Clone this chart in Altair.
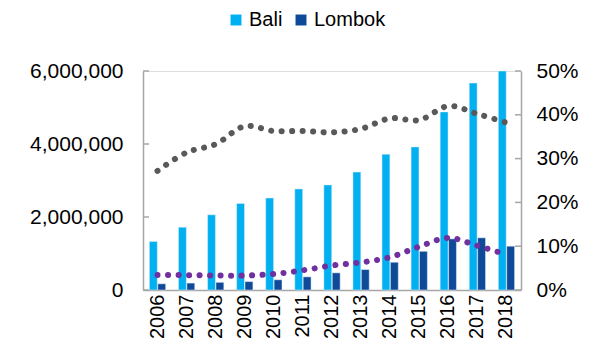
import altair as alt
import pandas as pd

years = [str(y) for y in range(2006, 2019)]
bali = [1330000, 1720000, 2060000, 2370000, 2520000, 2770000, 2880000,
        3230000, 3720000, 3920000, 4880000, 5670000, 6000000]
lombok = [170000, 190000, 210000, 230000, 280000, 360000, 470000,
          560000, 760000, 1060000, 1400000, 1430000, 1200000]
bali_share = [0.272, 0.314, 0.333, 0.374, 0.363, 0.363, 0.360,
              0.368, 0.392, 0.388, 0.420, 0.402, 0.382]
lombok_share = [0.034, 0.034, 0.033, 0.033, 0.0365, 0.045, 0.056,
                0.063, 0.075, 0.099, 0.119, 0.101, 0.081]
left_ticks = [0, 2000000, 4000000, 6000000]
right_ticks = [0, 0.1, 0.2, 0.3, 0.4, 0.5]
series = ["Bali", "Lombok"]
colors = ["#00B0F0", "#0F4A98"]

W, H = 378, 219
FONT = "Liberation Sans"
AXC = "#A6A6A6"
FS = 21

bars_df = pd.DataFrame(
    [{"year": y, "series": "Bali", "value": v} for y, v in zip(years, bali)]
    + [{"year": y, "series": "Lombok", "value": v} for y, v in zip(years, lombok)]
)
share_df = pd.DataFrame({"year": years, "bali_share": bali_share, "lombok_share": lombok_share})
lt_df = pd.DataFrame({"v": left_ticks})
rt_df = pd.DataFrame({"v": right_ticks})

xenc = alt.X("year:N", sort=years, title=None,
             scale=alt.Scale(paddingInner=0.44, paddingOuter=0.22),
             axis=alt.Axis(labelAngle=270, labelFontSize=20, labelFont=FONT,
                           labelColor="#000000", ticks=False, domainColor=AXC,
                           domainWidth=1.5, labelPadding=4))

bars = alt.Chart(bars_df).mark_bar(stroke="#E6EEF8", strokeWidth=0.5).encode(
    x=xenc,
    xOffset=alt.XOffset("series:N", sort=series, scale=alt.Scale(paddingInner=0.06)),
    y=alt.Y("value:Q", title=None,
            scale=alt.Scale(domain=[0, 6000000], nice=False, clamp=True),
            axis=alt.Axis(orient="left", values=left_ticks, format=",.0f", grid=False,
                          ticks=False, labelFontSize=FS, labelFont=FONT,
                          labelColor="#000000", domainColor=AXC, domainWidth=1.5,
                          labelPadding=20)),
    color=alt.Color("series:N", sort=series,
                    scale=alt.Scale(domain=series, range=colors),
                    legend=alt.Legend(title=None, orient="none", direction="horizontal",
                                      legendX=83, legendY=-61, symbolType="square",
                                      symbolSize=120, symbolStrokeWidth=0,
                                      labelFontSize=20, labelFont=FONT,
                                      labelColor="#000000", columnPadding=8,
                                      labelOffset=3)),
)

ltick = alt.Chart(lt_df).mark_rule(color=AXC, strokeWidth=1.5).encode(
    x=alt.value(0), x2=alt.value(6),
    y=alt.Y("v:Q", scale=alt.Scale(domain=[0, 6000000], nice=False), axis=None),
)

line_common = dict(strokeDash=[0.1, 10.4], strokeCap="round", strokeWidth=6,
                   interpolate="catmull-rom")

gray = alt.Chart(share_df).mark_line(color="#595959", **line_common).encode(
    x=alt.X("year:N", sort=years),
    y=alt.Y("bali_share:Q", title=None,
            scale=alt.Scale(domain=[0, 0.5], nice=False),
            axis=alt.Axis(orient="right", values=right_ticks, format=".0%", grid=False,
                          ticks=False, labelFontSize=FS, labelFont=FONT,
                          labelColor="#000000", domainColor=AXC, domainWidth=1.5,
                          labelPadding=15)),
)

purple = alt.Chart(share_df).mark_line(color="#7030A0", **line_common).encode(
    x=alt.X("year:N", sort=years),
    y=alt.Y("lombok_share:Q", scale=alt.Scale(domain=[0, 0.5], nice=False), axis=None),
)

rtick = alt.Chart(rt_df).mark_rule(color=AXC, strokeWidth=1.5).encode(
    x=alt.value(W - 6), x2=alt.value(W),
    y=alt.Y("v:Q", scale=alt.Scale(domain=[0, 0.5], nice=False), axis=None),
)

chart = alt.layer(bars, ltick, gray, purple, rtick).resolve_scale(
    y="independent"
).properties(
    width=W, height=H,
    autosize=alt.AutoSizeParams(type="none"),
    padding={"left": 135, "top": 63, "right": 68, "bottom": 56},
).configure_view(stroke=None).configure(background="white")

chart.save("out.html", embed_options={"renderer": "svg", "actions": False})
